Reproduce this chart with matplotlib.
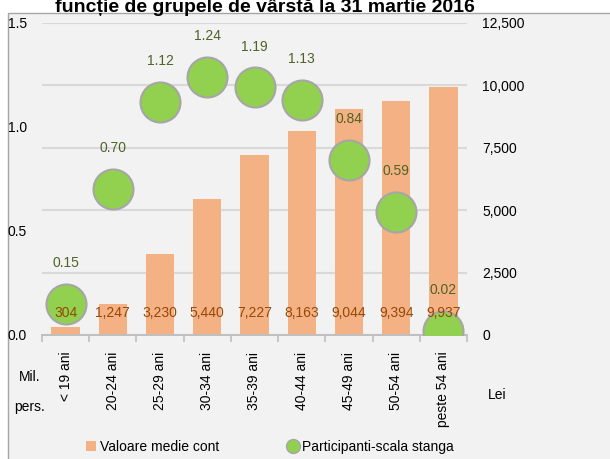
import matplotlib.pyplot as plt
import matplotlib.transforms as mtransforms
from matplotlib.patches import Rectangle, Patch
from matplotlib.lines import Line2D
from matplotlib.ticker import FuncFormatter

plt.rcParams['font.family'] = ['Liberation Sans Narrow', 'Liberation Sans', 'DejaVu Sans']

categories = ['< 19 ani', '20-24 ani', '25-29 ani', '30-34 ani', '35-39 ani',
              '40-44 ani', '45-49 ani', '50-54 ani', 'peste 54 ani']
valoare_medie = [304, 1247, 3230, 5440, 7227, 8163, 9044, 9394, 9937]
participanti = [0.15, 0.70, 1.12, 1.24, 1.19, 1.13, 0.84, 0.59, 0.02]
title = 'funcție de grupele de vârstă la 31 martie 2016'

W, H = 610, 459
fig = plt.figure(figsize=(W / 100, H / 100), dpi=100, facecolor='white')

# chart area box
fig.patches.append(Rectangle((8 / W, -0.01), 1.0, 1 - 13 / H + 0.01, transform=fig.transFigure,
                             facecolor='#f2f2f2', edgecolor='#a6a6a6', linewidth=1.0, zorder=-5))

ax = fig.add_axes([42 / W, 1 - 335 / H, (467 - 42) / W, (335 - 23) / H])
ax2 = ax.twinx()
ax.set_zorder(ax2.get_zorder() + 1)
ax.patch.set_visible(False)
ax2.patch.set_visible(False)

x = list(range(len(categories)))

# bars - right axis
ax2.bar(x, valoare_medie, width=0.6, color='#f4b183', zorder=2)
ax2.set_ylim(0, 12500)
ax2.set_yticks([0, 2500, 5000, 7500, 10000, 12500])
ax2.yaxis.set_major_formatter(FuncFormatter(lambda v, p: f'{int(v):,}'))
ax2.grid(axis='y', color='#d9d9d9', linewidth=1.5, zorder=0)
ax2.set_axisbelow(True)

# scatter - left axis
ax.scatter(x, participanti, s=830, color='#92d050', edgecolor='#a6a6a6', linewidth=1.5, zorder=3)
ax.set_ylim(0, 1.5)
ax.set_yticks([0, 0.5, 1.0, 1.5])
ax.yaxis.set_major_formatter(FuncFormatter(lambda v, p: f'{v:.1f}'))
ax.set_xlim(-0.5, len(categories) - 0.5)

for xi, v in zip(x, participanti):
    ax.annotate(f'{v:.2f}', (xi, v), xytext=(0, 29.5), textcoords='offset points',
                ha='center', va='center', fontsize=10, color='#4f6228', zorder=5)

trans = mtransforms.blended_transform_factory(ax.transData, ax.transAxes)
for xi, v in zip(x, valoare_medie):
    ax.text(xi, 0.07, f'{v:,}', transform=trans, ha='center', va='center',
            fontsize=10, color='#974706', zorder=6)

for a in (ax, ax2):
    for s in ('top', 'left', 'right'):
        a.spines[s].set_visible(False)
    a.spines['bottom'].set_color('#bfbfbf')
    a.spines['bottom'].set_linewidth(1.2)
    a.tick_params(axis='y', length=0, labelsize=10, colors='black')

ax.tick_params(axis='y', pad=11)
ax2.tick_params(axis='y', pad=11)

ax.set_xticks(x)
ax.set_xticklabels(categories, rotation=90, fontsize=10)
ax.set_xticks([i - 0.5 for i in range(len(categories) + 1)], minor=True)
ax.tick_params(axis='x', which='major', length=0, pad=12)
ax.tick_params(axis='x', which='minor', length=5, color='#bfbfbf', width=1.2)

fig.text(30 / W, 1 - 392 / H, 'Mil.\npers.', ha='center', va='center', fontsize=10,
         linespacing=2.4)
fig.text(497 / W, 1 - 395 / H, 'Lei', ha='center', va='center', fontsize=10)

fig.text(265 / W, 1 - 12 / H, title, ha='center', va='baseline', fontsize=14,
         fontweight='bold')

handles = [Patch(facecolor='#f4b183', edgecolor='none'),
           Line2D([], [], marker='o', linestyle='none', markersize=10,
                  markerfacecolor='#92d050', markeredgecolor='#a6a6a6')]
fig.legend(handles, ['Valoare medie cont', 'Participanti-scala stanga'],
           loc='center', bbox_to_anchor=(270 / W, 1 - 447 / H), ncol=2, frameon=False,
           fontsize=10, columnspacing=5.0, handlelength=0.7, handletextpad=0.3)

fig.savefig('out.png', dpi=100, facecolor='white')
